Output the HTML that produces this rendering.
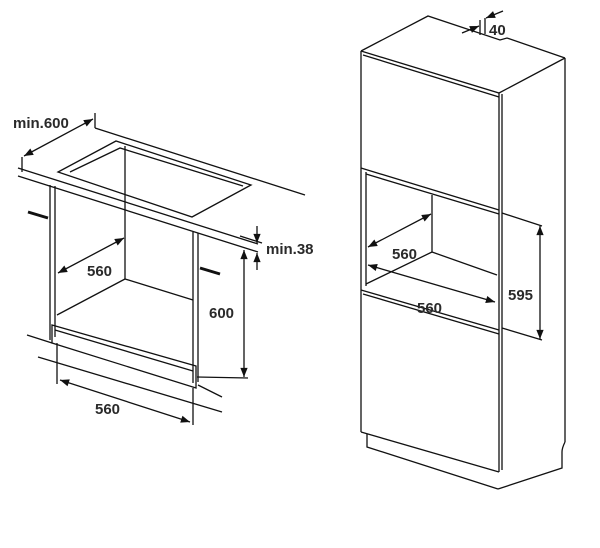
<!DOCTYPE html>
<html><head><style>body{margin:0;background:#fff}svg{display:block}text{font-family:"Liberation Sans",sans-serif;font-size:15px;font-weight:bold;fill:#2a2a2a}</style></head><body>
<svg width="600" height="548" viewBox="0 0 600 548" xmlns="http://www.w3.org/2000/svg">
<defs><marker id="a" viewBox="0 0 10 10" refX="10" refY="5" markerWidth="10" markerHeight="7" orient="auto-start-reverse"><path d="M0,1L10,5L0,9z" fill="#111"/></marker></defs>
<g stroke="#111" stroke-width="1.3" fill="none">
<line x1="22" y1="157" x2="22" y2="172"/><line x1="95" y1="113" x2="95" y2="128"/>
<line x1="24" y1="156" x2="93" y2="119" marker-start="url(#a)" marker-end="url(#a)"/>
<line x1="95" y1="128" x2="305" y2="195"/>
<line x1="18" y1="168" x2="258" y2="244"/>
<line x1="18" y1="176" x2="258" y2="252"/>
<polygon points="116,141 58,172 192,217 251,185"/>
<polyline points="70,172 120,148 243,186"/>
<line x1="50" y1="185" x2="50" y2="340"/><line x1="55" y1="186" x2="55" y2="337"/>
<line x1="125" y1="146" x2="125" y2="279"/>
<line x1="193" y1="232" x2="193" y2="383"/><line x1="198" y1="233" x2="198" y2="382"/>
<polyline points="57,315 125,279 193,300"/>
<polygon points="52,325 196,366 196,388 52,343"/>
<line x1="55" y1="330" x2="193" y2="371"/>
<line x1="27" y1="335" x2="52" y2="343"/>
<line x1="38" y1="357" x2="222" y2="412"/>
<line x1="198" y1="385" x2="222" y2="397"/>
<line x1="57" y1="343" x2="57" y2="384"/><line x1="193" y1="388" x2="193" y2="425"/>
<line x1="60" y1="380" x2="190" y2="422" marker-start="url(#a)" marker-end="url(#a)"/>
<line x1="58" y1="273" x2="124" y2="238" marker-start="url(#a)" marker-end="url(#a)"/>
<line x1="244" y1="250" x2="244" y2="377" marker-start="url(#a)" marker-end="url(#a)"/>
<line x1="197" y1="377" x2="248" y2="378"/>
<line x1="257" y1="226" x2="257" y2="243" marker-end="url(#a)"/>
<line x1="257" y1="270" x2="257" y2="253" marker-end="url(#a)"/>
<line x1="240" y1="236" x2="262" y2="243"/>
<g stroke-width="3"><line x1="28" y1="212" x2="48" y2="218"/><line x1="200" y1="268" x2="220" y2="274"/></g>
<polyline points="361,51 428,16 500,40 507,38 565,58"/>
<polyline points="361,51 499,93 565,58"/>
<line x1="363" y1="55" x2="499" y2="97"/>
<line x1="361" y1="51" x2="361" y2="168"/>
<line x1="361" y1="168" x2="499" y2="210"/>
<line x1="499" y1="93" x2="499" y2="472"/><line x1="502" y1="94" x2="502" y2="470"/>
<line x1="565" y1="58" x2="565" y2="442"/>
<path d="M565,442 Q562,448 562,452 L562,468 L498,489"/>
<line x1="361" y1="168" x2="361" y2="290"/><line x1="366" y1="172" x2="366" y2="286"/>
<line x1="366" y1="174" x2="499" y2="214"/>
<line x1="432" y1="195" x2="432" y2="252"/>
<line x1="432" y1="252" x2="497" y2="275"/>
<line x1="366" y1="284" x2="432" y2="252"/>
<line x1="361" y1="290" x2="499" y2="330"/><line x1="363" y1="294" x2="499" y2="334"/>
<line x1="361" y1="290" x2="361" y2="432"/>
<line x1="361" y1="432" x2="499" y2="472"/>
<polyline points="367,434 367,447 498,489"/>
<line x1="502" y1="213" x2="542" y2="226"/><line x1="502" y1="328" x2="542" y2="340"/>
<line x1="540" y1="226" x2="540" y2="339" marker-start="url(#a)" marker-end="url(#a)"/>
<line x1="368" y1="247" x2="431" y2="214" marker-start="url(#a)" marker-end="url(#a)"/>
<line x1="368" y1="265" x2="495" y2="302" marker-start="url(#a)" marker-end="url(#a)"/>
<line x1="480" y1="20" x2="480" y2="35"/><line x1="485" y1="18" x2="485" y2="34"/>
<line x1="462" y1="33" x2="479" y2="26" marker-end="url(#a)"/>
<line x1="503" y1="11" x2="486" y2="18" marker-end="url(#a)"/>
</g>
<text x="13" y="128">min.600</text>
<text x="266" y="254">min.38</text>
<text x="87" y="276">560</text>
<text x="209" y="318">600</text>
<text x="95" y="414">560</text>
<text x="392" y="259">560</text>
<text x="417" y="313">560</text>
<text x="508" y="300">595</text>
<text x="489" y="35">40</text>
</svg></body></html>
